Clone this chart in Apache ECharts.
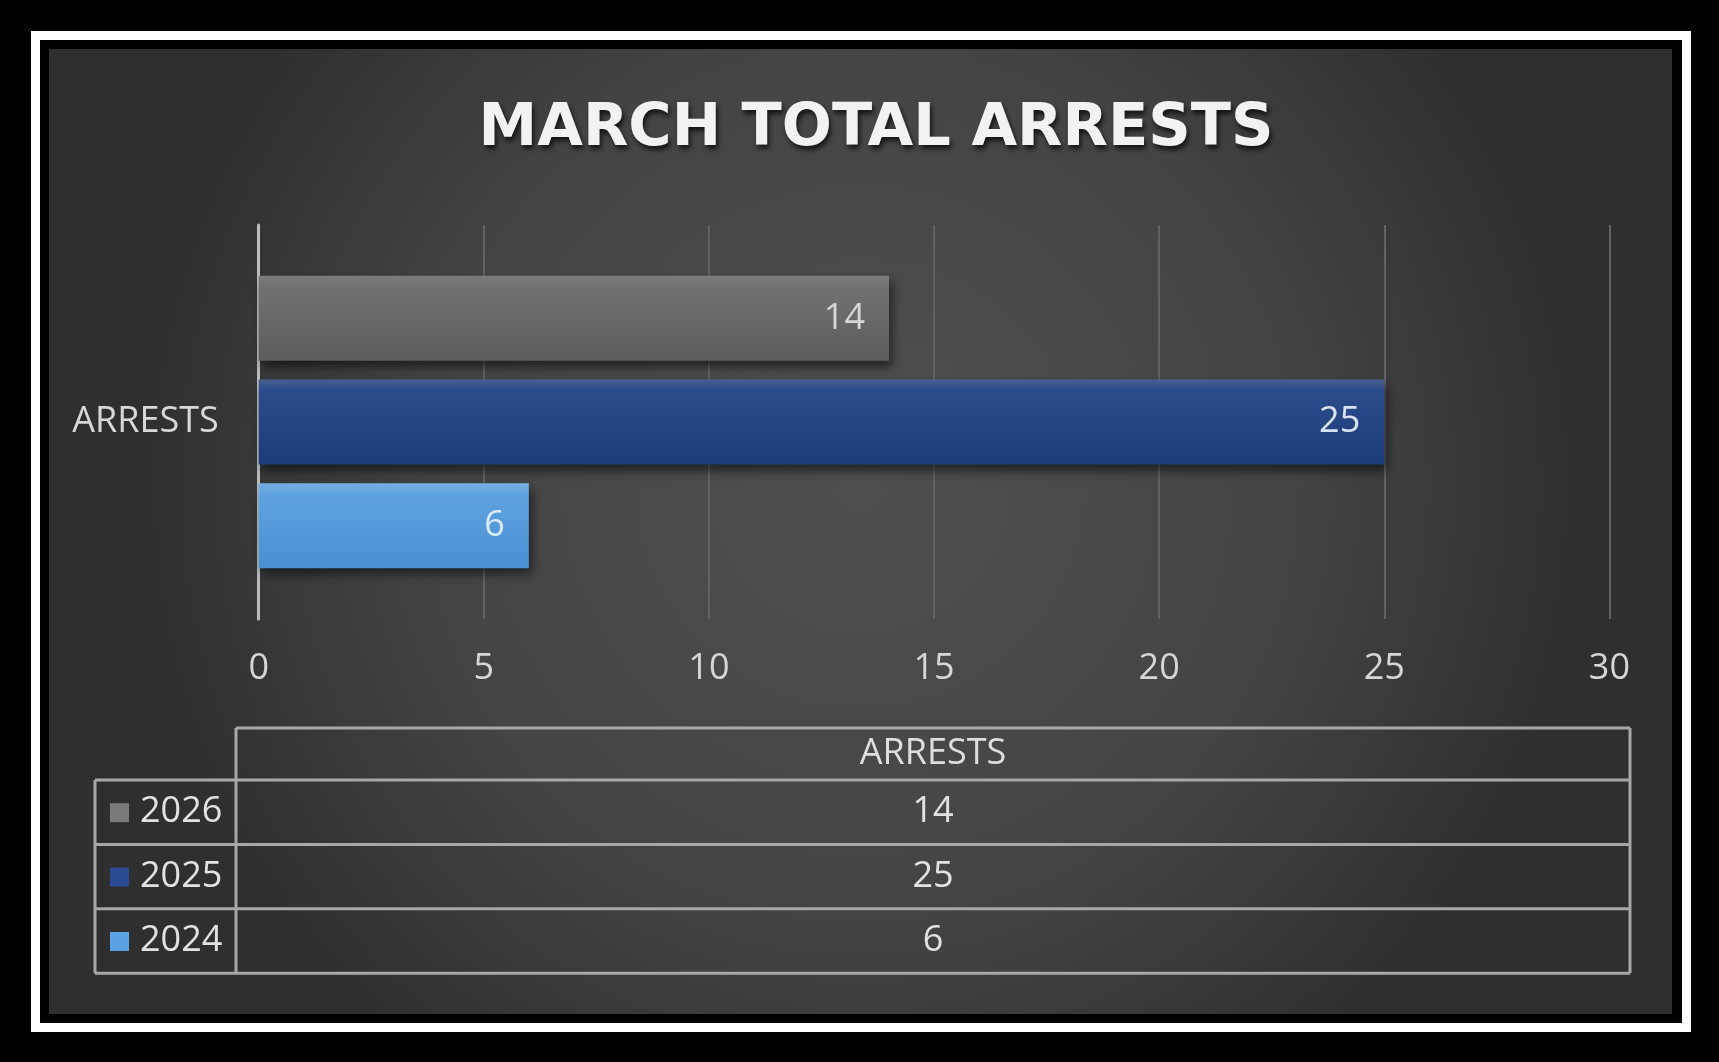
<!DOCTYPE html>
<html>
<head>
<meta charset="utf-8">
<script src="https://cdn.jsdelivr.net/npm/echarts@6/dist/echarts.min.js"></script>
<style>
html,body{margin:0;padding:0;background:#000;}
#chart{width:1719px;height:1062px;}
</style>
</head>
<body>
<div id="chart"></div>
<script>
// ---- data ----
const categories = ['ARRESTS'];
const seriesNames = ['2026', '2025', '2024'];      // top to bottom in the plot
const values2024 = [6];
const values2025 = [25];
const values2026 = [14];
const xTicks = [0, 5, 10, 15, 20, 25, 30];
const tableRows = ['2026', '2025', '2024'];        // table order, top to bottom

const FONT = '"Open Sans", "Noto Sans", sans-serif';
const seriesValues = { '2024': values2024, '2025': values2025, '2026': values2026 };
const keyColors = { '2026': '#7a7a7a', '2025': '#2a4b92', '2024': '#5aa2e4' };
const barFills = {
  '2026': new echarts.graphic.LinearGradient(0, 0, 0, 1, [
    { offset: 0, color: '#7b7b7b' }, { offset: 0.15, color: '#717171' },
    { offset: 1, color: '#5c5c5c' }]),
  '2025': new echarts.graphic.LinearGradient(0, 0, 0, 1, [
    { offset: 0, color: '#4b5f90' }, { offset: 0.12, color: '#2c4c8c' },
    { offset: 1, color: '#1d3b78' }]),
  '2024': new echarts.graphic.LinearGradient(0, 0, 0, 1, [
    { offset: 0, color: '#78b0e2' }, { offset: 0.12, color: '#5fa3e0' },
    { offset: 1, color: '#4890d4' }])
};
const labelColors = { '2026': '#d6d6d6', '2025': '#d8e2f0', '2024': '#deeaf8' };

// ---- layout constants ----
const W = 1719, H = 1062;
const tblLeft = 95, tblColX = 236, tblRight = 1630;
const tblTop = 728, tblHeadBottom = 780, tblRowH = 64.4;
const tblBottom = tblHeadBottom + tblRowH * tableRows.length;
const lineCol = '#a8a8a8';

const graphics = [];
// frame
graphics.push({ type: 'rect', z: -100, shape: { x: 35.5, y: 35.5, width: 1651, height: 992 },
  style: { fill: 'none', stroke: '#fff', lineWidth: 9 }, silent: true });
graphics.push({ type: 'rect', z: -99, shape: { x: 49, y: 49, width: 1623, height: 965 },
  style: { fill: new echarts.graphic.RadialGradient(0.5, 0.45, 0.75, [
    { offset: 0, color: '#4f4f4f' }, { offset: 0.6, color: '#444444' }, { offset: 1, color: '#2f2f2f' }]) },
  silent: true });

// table lines
function hline(x1, x2, y) {
  graphics.push({ type: 'line', z: 10, shape: { x1, y1: y, x2, y2: y }, style: { stroke: lineCol, lineWidth: 3 }, silent: true });
}
function vline(x, y1, y2) {
  graphics.push({ type: 'line', z: 10, shape: { x1: x, y1, x2: x, y2 }, style: { stroke: lineCol, lineWidth: 3 }, silent: true });
}
hline(tblColX, tblRight, tblTop);
for (let i = 0; i <= tableRows.length; i++) hline(tblLeft, tblRight, tblHeadBottom + i * tblRowH);
vline(tblLeft, tblHeadBottom, tblBottom);
vline(tblColX, tblTop, tblBottom);
vline(tblRight, tblTop, tblBottom);

const tcx = (tblColX + tblRight) / 2;
graphics.push({ type: 'text', z: 11, x: tcx, y: (tblTop + tblHeadBottom) / 2,
  style: { text: categories[0], fill: '#dedede', font: '36px ' + FONT, textAlign: 'center', textVerticalAlign: 'middle' }, silent: true });
tableRows.forEach((name, i) => {
  const cy = tblHeadBottom + tblRowH * (i + 0.5);
  graphics.push({ type: 'rect', z: 11, shape: { x: 110, y: cy - 9, width: 19, height: 19 },
    style: { fill: keyColors[name] }, silent: true });
  graphics.push({ type: 'text', z: 11, x: 140, y: cy,
    style: { text: name, fill: '#e2e2e2', font: '36px ' + FONT, textAlign: 'left', textVerticalAlign: 'middle' }, silent: true });
  graphics.push({ type: 'text', z: 11, x: tcx, y: cy,
    style: { text: String(seriesValues[name][0]), fill: '#e2e2e2', font: '36px ' + FONT, textAlign: 'center', textVerticalAlign: 'middle' }, silent: true });
});

const series = seriesNames.map(name => ({
  name: name,
  type: 'bar',
  data: seriesValues[name],
  barWidth: 85,
  barGap: '22%',
  itemStyle: {
    color: barFills[name],
    shadowColor: 'rgba(0,0,0,0.55)', shadowBlur: 10, shadowOffsetX: 3, shadowOffsetY: 6
  },
  label: {
    show: true, position: 'insideRight', distance: 24,
    color: labelColors[name], fontFamily: FONT, fontSize: 36
  },
  z: 3
}));

const chart = echarts.init(document.getElementById('chart'), null, { renderer: 'canvas' });
chart.setOption({
  backgroundColor: '#000',
  animation: false,
  title: {
    text: 'MARCH TOTAL ARRESTS',
    left: 871, top: 95, textAlign: 'center',
    textStyle: {
      color: '#f2f2f2', fontFamily: '"DejaVu Sans", sans-serif', fontWeight: 'bold', fontSize: 59,
      textShadowColor: 'rgba(0,0,0,0.7)', textShadowBlur: 5, textShadowOffsetX: 2, textShadowOffsetY: 4
    }
  },
  grid: { left: 258.7, right: W - 1609.4, top: 225, bottom: H - 619 },
  xAxis: {
    type: 'value', min: xTicks[0], max: xTicks[xTicks.length - 1], interval: xTicks[1] - xTicks[0],
    axisLine: { show: false }, axisTick: { show: false },
    splitLine: { show: true, lineStyle: { color: '#626262', width: 2 } },
    axisLabel: { color: '#d6d6d6', fontFamily: FONT, fontSize: 36, margin: 32 }
  },
  yAxis: {
    type: 'category', data: categories,
    axisLine: { show: true, lineStyle: { color: '#bdbdbd', width: 3 } },
    axisTick: { show: false },
    axisLabel: { color: '#d8d8d8', fontFamily: FONT, fontSize: 36, margin: 40 }
  },
  graphic: graphics,
  series: series
});
</script>
</body>
</html>
